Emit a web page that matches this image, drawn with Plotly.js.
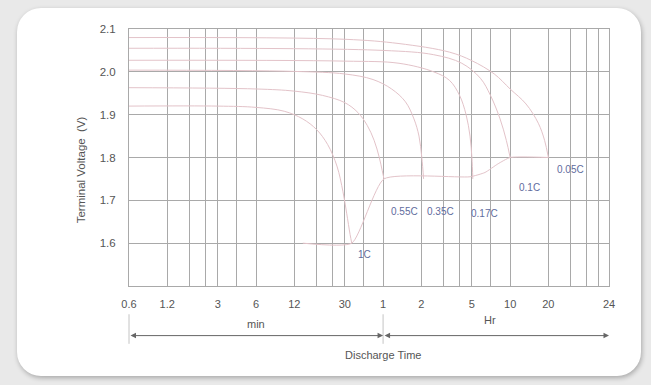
<!DOCTYPE html>
<html>
<head>
<meta charset="utf-8">
<script src="https://cdn.plot.ly/plotly-3.0.1.min.js"></script>
<style>
  html, body { margin: 0; padding: 0; width: 651px; height: 385px; overflow: hidden; background: #e9e9e9; }
  #panel { position: absolute; left: 17px; top: 8px; width: 624px; height: 368px; background: #ffffff;
           border-radius: 24px; box-shadow: 1px 2px 5px rgba(0,0,0,0.28); }
  #chart { position: absolute; left: 0; top: 0; width: 651px; height: 385px; }
</style>
</head>
<body>
<div id="panel"></div>
<div id="chart"></div>
<script>
// Discharge time in minutes, terminal voltage per cell in volts
const rateNames = ['1C', '0.55C', '0.35C', '0.17C', '0.1C', '0.05C'];

const t1C   = [0.6, 3, 6, 10, 14, 18, 22, 26, 29, 31, 33, 34];
const v1C   = [1.92, 1.92, 1.917, 1.908, 1.89, 1.865, 1.83, 1.78, 1.72, 1.67, 1.62, 1.60];

const t055C = [0.6, 6, 12, 20, 30, 38, 45, 51, 56, 59, 61];
const v055C = [1.963, 1.96, 1.955, 1.945, 1.928, 1.905, 1.875, 1.84, 1.80, 1.77, 1.75];

const t035C = [0.6, 12, 30, 50, 70, 90, 105, 115, 121, 125];
const v035C = [2.004, 2.001, 1.995, 1.982, 1.96, 1.93, 1.89, 1.85, 1.80, 1.75];

const t017C = [0.6, 30, 80, 150, 200, 240, 270, 290, 300, 305];
const v017C = [2.027, 2.025, 2.02, 2.0, 1.98, 1.945, 1.90, 1.85, 1.80, 1.75];

const t01C  = [0.6, 60, 150, 250, 350, 420, 500, 560, 600];
const v01C  = [2.055, 2.05, 2.04, 2.02, 1.985, 1.945, 1.89, 1.84, 1.80];

const t005C = [0.6, 30, 80, 200, 300, 450, 600, 800, 1000, 1120, 1200];
const v005C = [2.08, 2.076, 2.066, 2.046, 2.026, 1.995, 1.96, 1.925, 1.88, 1.84, 1.80];

// Final (cut-off) voltage line joining the curve ends
const tEnd = [14, 34, 61, 290, 380, 480, 600, 1200];
const vEnd = [1.60, 1.60, 1.75, 1.755, 1.765, 1.785, 1.80, 1.80];

// Rate labels placed beside the curve ends
const labelMin = [43, 89, 169, 374, 847, 1780];
const labelV   = [1.574, 1.675, 1.675, 1.670, 1.731, 1.773];

// Vertical grid positions (minutes) and the tick labels shown on them
const gridMinutes = [0.6, 1.2, 1.8, 2.4, 3, 4.2, 6, 12, 18, 24, 30, 42, 60,
                     120, 180, 240, 300, 420, 600, 1200, 1800, 2400, 3000, 3600];
const tickMinutes = [0.6, 1.2, 3, 6, 12, 30, 60, 120, 300, 600, 1200, 3600];
const tickText    = ['0.6', '1.2', '3', '6', '12', '30', '1', '2', '5', '10', '20', '24'];

const voltTicks = [1.6, 1.7, 1.8, 1.9, 2.0, 2.1];

const curveTimes = [t1C, t055C, t035C, t017C, t01C, t005C];
const curveVolts = [v1C, v055C, v035C, v017C, v01C, v005C];

const curveColor = '#e3c3c9';
const gridColor = '#a9a9a9';
const textGrey = '#555555';
const labelBlue = '#5f6c9e';
const font = 'Liberation Sans, Arial, sans-serif';

const traces = curveTimes.map((t, i) => ({
  x: t, y: curveVolts[i], name: rateNames[i], type: 'scatter', mode: 'lines',
  line: { color: curveColor, width: 1, shape: 'spline', smoothing: 1 },
  hoverinfo: 'skip'
}));
traces.push({
  x: tEnd, y: vEnd, name: 'end', type: 'scatter', mode: 'lines',
  line: { color: curveColor, width: 1, shape: 'spline', smoothing: 0.5 },
  hoverinfo: 'skip'
});

const ticktextAll = gridMinutes.map(m => {
  const k = tickMinutes.indexOf(m);
  return k >= 0 ? tickText[k] : '';
});

const lg = Math.log10;
const xMin = 0.6, xMax = 3600;
const arrowY = -0.193;

const annotations = rateNames.map((name, i) => ({
  x: lg(labelMin[i]), y: labelV[i], xref: 'x', yref: 'y', text: name, showarrow: false,
  font: { family: font, size: 10, color: labelBlue }
}));

// Range arrows under the axis: minutes part and hours part
annotations.push({
  x: lg(60), y: arrowY, xref: 'x', yref: 'paper', ax: lg(xMin), ay: 0, axref: 'x', ayref: 'pixel',
  text: '', showarrow: true, arrowside: 'end+start', arrowhead: 2, arrowsize: 1.1, arrowwidth: 1,
  arrowcolor: '#666666', standoff: 0, startstandoff: 0
});
annotations.push({
  x: lg(xMax), y: arrowY, xref: 'x', yref: 'paper', ax: lg(60), ay: 0, axref: 'x', ayref: 'pixel',
  text: '', showarrow: true, arrowside: 'end+start', arrowhead: 2, arrowsize: 1.1, arrowwidth: 1,
  arrowcolor: '#666666', standoff: 0, startstandoff: 0
});
annotations.push({ x: lg(6), y: -0.147, xref: 'x', yref: 'paper', text: 'min', showarrow: false,
  yanchor: 'middle', font: { family: font, size: 11, color: textGrey } });
annotations.push({ x: lg(420), y: -0.133, xref: 'x', yref: 'paper', text: 'Hr', showarrow: false,
  yanchor: 'middle', font: { family: font, size: 11, color: textGrey } });
annotations.push({ x: lg(60), y: -0.268, xref: 'x', yref: 'paper', text: 'Discharge Time', showarrow: false,
  yanchor: 'middle', font: { family: font, size: 11, color: textGrey } });
annotations.push({ x: -0.1, y: 0.45, xref: 'paper', yref: 'paper', text: 'Terminal Voltage  (V)',
  textangle: -90, showarrow: false, xanchor: 'center', yanchor: 'middle',
  font: { family: font, size: 11.5, color: textGrey } });

// Short vertical markers at the start of the scale and at 1 hour
const toFrac = m => (lg(m) - lg(xMin)) / (lg(xMax) - lg(xMin));
const shapes = [xMin, 60].map(m => ({
  type: 'line', xref: 'paper', yref: 'paper', x0: toFrac(m), x1: toFrac(m), y0: -0.11, y1: -0.225,
  line: { color: '#c4c4c4', width: 1 }
}));

const layout = {
  width: 651, height: 385,
  margin: { l: 129, r: 42, t: 29, b: 99 },
  paper_bgcolor: 'rgba(0,0,0,0)', plot_bgcolor: 'rgba(0,0,0,0)',
  showlegend: false,
  font: { family: font, size: 11, color: textGrey },
  xaxis: {
    type: 'log', range: [lg(xMin), lg(xMax)],
    tickmode: 'array', tickvals: gridMinutes, ticktext: ticktextAll,
    showgrid: true, gridcolor: gridColor, gridwidth: 1,
    showline: true, linecolor: gridColor, linewidth: 1, mirror: true,
    ticks: '', ticklabelstandoff: 8, zeroline: false,
    tickfont: { family: font, size: 11, color: textGrey }
  },
  yaxis: {
    range: [1.5, 2.1],
    tickmode: 'array', tickvals: voltTicks, tickformat: '.1f',
    showgrid: true, gridcolor: gridColor, gridwidth: 1,
    showline: true, linecolor: gridColor, linewidth: 1, mirror: true,
    ticks: '', ticklabelstandoff: 10, zeroline: false,
    tickfont: { family: font, size: 11.5, color: textGrey }
  },
  annotations: annotations,
  shapes: shapes
};

Plotly.newPlot('chart', traces, layout, { staticPlot: true, displayModeBar: false });
</script>
</body>
</html>
